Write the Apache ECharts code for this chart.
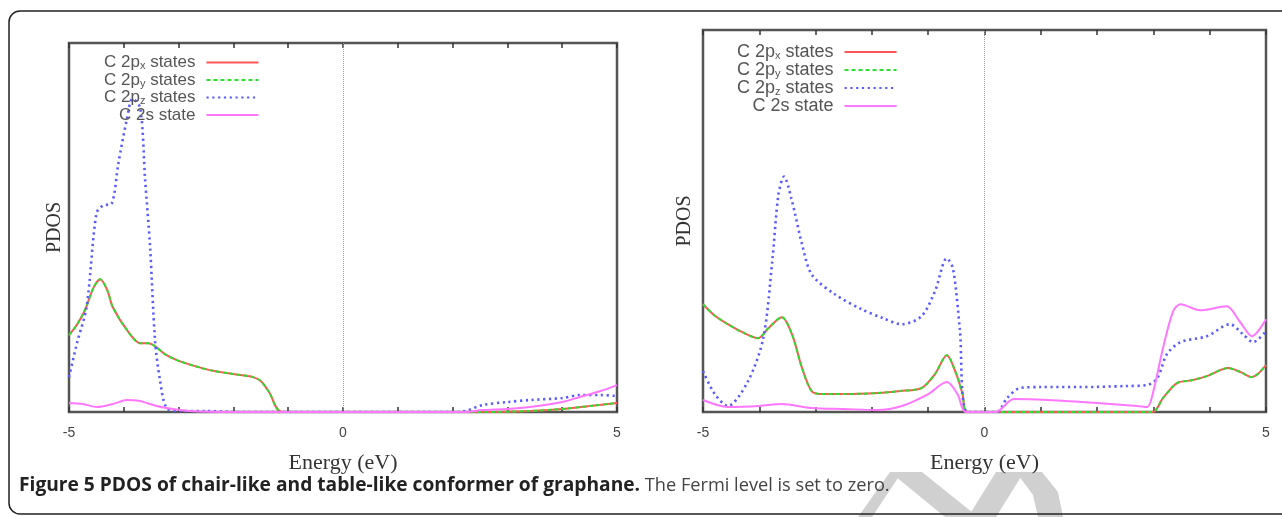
<!DOCTYPE html>
<html>
<head>
<meta charset="utf-8">
<title>PDOS of chair-like and table-like graphane</title>
<script src="https://cdn.jsdelivr.net/npm/echarts@6/dist/echarts.min.js"></script>
<style>
  html, body { margin: 0; padding: 0; background: #fff; }
  #chart { width: 1282px; height: 517px; }
</style>
</head>
<body>
<div id="chart"></div>
<script>
// labelled energy ticks (eV)
const tickLabels = [-5, 0, 5]
const stateNames = ['C 2px states', 'C 2py states', 'C 2pz states', 'C 2s state']

// chair-like conformer (left panel), PDOS in arbitrary units
// 2px and 2py curves are identical
const chairPxyE = [-5, -4.85, -4.71, -4.55, -4.43, -4.3, -4.2, -3.94, -3.7, -3.55, -3.43, -3.25, -3.03, -2.7, -2.43, -2.0, -1.64, -1.5, -1.35, -1.11, 2.6, 3.4, 4.0, 4.5, 5]
const chairPxyV = [77, 88, 102, 125, 133, 122, 105, 82, 69, 69, 66, 58, 52, 46, 42, 38, 35, 31, 20, 0, 0, 1, 3, 6, 9]
const chairPzE = [-5, -4.85, -4.68, -4.5, -4.38, -4.22, -4.1, -3.95, -3.84, -3.7, -3.61, -3.52, -3.43, -3.34, -3.22, -3.0, -2.5, -2.0, 2.13, 2.55, 3.0, 3.41, 4.0, 4.32, 4.7, 5]
const chairPzV = [35, 70, 105, 199, 207, 209, 249, 292, 314, 305, 232, 165, 72, 32, 4, 1, 1, 0, 0, 7, 10, 12, 14, 17, 17, 16]
const chairSE = [-5, -4.75, -4.49, -4.2, -3.94, -3.7, -3.58, -3.4, -3.22, -2.8, -2.0, 2.2, 2.55, 3.0, 3.41, 4.0, 4.32, 4.7, 5]
const chairSV = [9, 8, 5, 8, 12, 11, 9, 6, 4, 1, 0, 0, 2, 3, 5, 10, 15, 21, 27]

// table-like conformer (right panel)
const tablePxyE = [-5, -4.8, -4.56, -4.3, -4.02, -3.84, -3.6, -3.42, -3.24, -3.07, -2.89, -2.5, -1.9, -1.5, -1.12, -0.88, -0.67, -0.5, -0.39, -0.3, 2.98, 3.17, 3.42, 3.7, 3.95, 4.33, 4.55, 4.75, 5]
const tablePxyV = [108, 97, 88, 80, 74, 84, 95, 78, 44, 21, 18, 18, 19, 21, 24, 38, 57, 38, 18, 0, 0, 14, 29, 32, 36, 44, 40, 35, 47]
const tablePzE = [-5, -4.79, -4.56, -4.2, -3.93, -3.77, -3.66, -3.56, -3.43, -3.24, -3.07, -2.66, -2.18, -1.8, -1.47, -1.12, -0.88, -0.67, -0.56, -0.44, -0.3, 0.22, 0.4, 0.63, 1.0, 1.7, 2.5, 2.89, 3.07, 3.24, 3.48, 3.95, 4.36, 4.59, 4.77, 5]
const tablePzV = [41, 18, 6, 31, 74, 151, 218, 236, 214, 168, 138, 118, 103, 94, 88, 96, 121, 154, 144, 84, 0, 0, 14, 24, 25, 25, 26, 27, 34, 58, 70, 76, 88, 78, 70, 81]
const tableSE = [-5, -4.56, -4.0, -3.6, -3.07, -2.5, -1.9, -1.47, -1.0, -0.67, -0.48, -0.33, 0.2, 0.52, 1.12, 2.0, 2.71, 2.89, 3.0, 3.17, 3.35, 3.48, 3.83, 4.3, 4.53, 4.75, 5]
const tableSV = [12, 5, 6, 8, 4, 3, 2, 6, 18, 30, 18, 0, 0, 13, 12, 9, 6, 5, 21, 64, 101, 108, 102, 106, 91, 76, 93]

const zip = (xs, ys) => xs.map((x, i) => [x, ys[i]])

// legend text with subscripts (g = small gap before the sample line)
const legendText = {
  'C 2px states': '{n|C 2p}{s|x}{n| states}{g|}',
  'C 2py states': '{n|C 2p}{s|y}{n| states}{g|}',
  'C 2pz states': '{n|C 2p}{s|z}{n| states}{g|}',
  'C 2s state': '{n|C 2s state}{g|}'
}

function panelSeries(g, pxyE, pxyV, pzE, pzV, sE, sV) {
  const base = {
    type: 'line', xAxisIndex: g * 2, yAxisIndex: g,
    showSymbol: false, symbol: 'none', smooth: 0.3, silent: true, animation: false
  }
  return [
    Object.assign({}, base, {
      name: stateNames[0], data: zip(pxyE, pxyV),
      lineStyle: { color: '#ff5555', width: 2 }, itemStyle: { color: '#ff5555' },
      markLine: {
        silent: true, symbol: ['none', 'none'], label: { show: false },
        lineStyle: { color: '#9a9a9a', width: 1, type: 'dotted' },
        data: [{ xAxis: 0 }]
      }
    }),
    Object.assign({}, base, {
      name: stateNames[1], data: zip(pxyE, pxyV),
      lineStyle: { color: '#2ede2e', width: 2, type: [4, 3] }, itemStyle: { color: '#2ede2e' }
    }),
    Object.assign({}, base, {
      name: stateNames[2], data: zip(pzE, pzV),
      lineStyle: { color: '#5a5aff', width: 2.6, type: [2.2, 3.6] }, itemStyle: { color: '#5a5aff' }
    }),
    Object.assign({}, base, {
      name: stateNames[3], data: zip(sE, sV),
      lineStyle: { color: '#ff77ff', width: 2 }, itemStyle: { color: '#ff77ff' }
    })
  ]
}

function xAxes(g) {
  const common = {
    type: 'value', gridIndex: g, min: -5, max: 5, interval: 1,
    axisLine: { show: false }, splitLine: { show: false },
    axisTick: { show: true, inside: true, length: 5, lineStyle: { color: '#333', width: 1.5 } }
  }
  return [
    Object.assign({}, common, {
      position: 'bottom',
      axisLabel: {
        margin: 14, fontSize: 14, color: '#444', fontFamily: 'Liberation Sans',
        formatter: v => (tickLabels.indexOf(v) >= 0 ? String(v) : '')
      },
      name: 'Energy (eV)', nameLocation: 'middle', nameGap: 40,
      nameTextStyle: { fontFamily: 'Liberation Serif', fontSize: 22, color: '#333' }
    }),
    Object.assign({}, common, { position: 'top', axisLabel: { show: false } })
  ]
}

function yAxis(g, max, gap) {
  return {
    type: 'value', gridIndex: g, min: 0, max: max,
    axisLine: { show: false }, axisTick: { show: false },
    axisLabel: { show: false }, splitLine: { show: false },
    name: 'PDOS', nameLocation: 'middle', nameGap: gap, nameRotate: 90,
    nameTextStyle: { fontFamily: 'Liberation Serif', fontSize: 20, color: '#333' }
  }
}

function legend(left, top, size) {
  return {
    left: left, top: top, orient: 'vertical', align: 'right',
    itemWidth: 52, itemHeight: 12, itemGap: 0, selectedMode: false,
    itemStyle: { opacity: 0 },
    data: stateNames,
    formatter: name => legendText[name],
    textStyle: {
      color: '#555',
      rich: {
        n: { fontFamily: 'Liberation Sans', fontSize: size, lineHeight: 18, color: '#555' },
        s: { fontFamily: 'Liberation Sans', fontSize: 11, lineHeight: 11, verticalAlign: 'bottom', color: '#555' },
        g: { width: 6 }
      }
    }
  }
}

const chart = echarts.init(document.getElementById('chart'), null, { renderer: 'canvas' })

const option = {
  backgroundColor: '#fff',
  animation: false,
  grid: [
    { left: 69, top: 43, width: 548, height: 369, show: true, borderColor: '#555', borderWidth: 2.5, containLabel: false },
    { left: 703, top: 30, width: 563, height: 382, show: true, borderColor: '#555', borderWidth: 2.5, containLabel: false }
  ],
  xAxis: xAxes(0).concat(xAxes(1)),
  yAxis: [yAxis(0, 370, 4), yAxis(1, 383, 8)],
  legend: [legend(99, 49, 17), legend(732, 38, 18)],
  series: panelSeries(0, chairPxyE, chairPxyV, chairPzE, chairPzV, chairSE, chairSV)
    .concat(panelSeries(1, tablePxyE, tablePxyV, tablePzE, tablePzV, tableSE, tableSV)),
  graphic: [
    // outer frame of the figure
    {
      type: 'rect', silent: true, z: -1,
      shape: { x: 9, y: 11, width: 1290, height: 503, r: 11 },
      style: { fill: 'none', stroke: '#222', lineWidth: 1.5 }
    },
    // watermark shapes
    { type: 'polygon', silent: true, z: -2, shape: { points: [[858, 517], [872, 517], [902, 472], [890, 472]] }, style: { fill: '#d0d0d0' } },
    { type: 'polygon', silent: true, z: -2, shape: { points: [[890, 472], [922, 472], [978, 517], [945, 517]] }, style: { fill: '#d0d0d0' } },
    { type: 'polygon', silent: true, z: -2, shape: { points: [[968, 517], [996, 517], [1024, 472], [996, 472]] }, style: { fill: '#d0d0d0' } },
    { type: 'polygon', silent: true, z: -2, shape: { points: [[1016, 472], [1042, 472], [1058, 492], [1063, 517], [1038, 517], [1033, 495]] }, style: { fill: '#d0d0d0' } },
    // caption
    {
      type: 'text', left: 19, top: 476, silent: true,
      style: {
        text: '{b|Figure 5 PDOS of chair-like and table-like conformer of graphane.}{r| The Fermi level is set to zero.}',
        rich: {
          b: { fontFamily: 'Open Sans', fontWeight: 'bold', fontSize: 19.2, fill: '#222' },
          r: { fontFamily: 'Open Sans', fontSize: 18.2, fill: '#444' }
        }
      }
    }
  ]
}

chart.setOption(option)
</script>
</body>
</html>
